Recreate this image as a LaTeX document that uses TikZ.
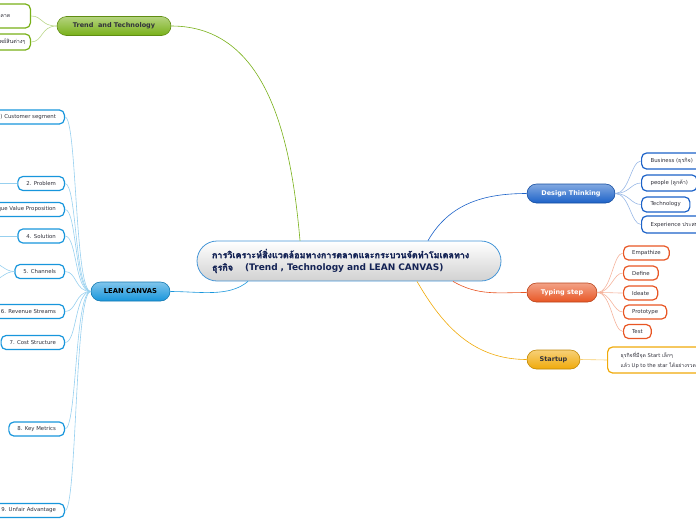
\documentclass[tikz,border=0pt]{standalone}
\usepackage{fontspec}
\setmainfont{DejaVu Sans}
\newfontfamily\thai[Script=Thai]{Loma}
\newfontfamily\thaibold[Script=Thai, FakeBold=2]{Loma}
\definecolor{trendgreen}{RGB}{120,176,24}
\definecolor{designblue}{RGB}{28,98,200}
\definecolor{typingred}{RGB}{232,86,36}
\definecolor{startupgold}{RGB}{240,170,10}
\definecolor{leanblue}{RGB}{24,150,220}
\definecolor{darkgray}{RGB}{50,50,60}
\definecolor{titlenavy}{RGB}{20,35,85}
\definecolor{titleedge}{RGB}{70,150,215}
\usepackage{tikz}
\tikzset{
    bigbox/.style={
        rectangle, rounded corners=9.5pt,
        minimum height=19pt, inner xsep=0pt,
        draw=#1!80!black, top color=#1!55!white, bottom color=#1,
        font=\fontsize{6.5}{7}\selectfont\bfseries, line width=0.6pt
    },
    box/.style={
        rectangle, rounded corners=5pt,
        minimum height=14pt, inner xsep=8.5pt, inner ysep=1pt,
        draw=#1, fill=white, text=darkgray,
        font=\fontsize{5.4}{6}\selectfont, line width=1.2pt
    },
    link/.style={draw=#1, line width=0.6pt},
    fanleft/.style={out=180, in=0, out distance=16pt, in distance=12pt},
    fanright/.style={out=0, in=180, out distance=14pt, in distance=10pt}
}

\begin{document}
\begin{tikzpicture}[x=1pt, y=-1pt]
    \useasboundingbox (0,0) rectangle (696,520);
    \clip (0,0) rectangle (696,520);

    % Central topic
    \node[rectangle, rounded corners=20pt, minimum width=304pt, minimum height=40pt,
          text width=274pt, draw=titleedge, line width=0.8pt, top color=white, bottom color=black!18,
          text=titlenavy, align=left, font=\fontsize{9}{12.5}\selectfont\bfseries]
          (central) at (349,261)
          {{\thaibold การวิเคราะห์สิ่งแวดล้อมทางการตลาดและกระบวนจัดทำโมเดลทาง}\\
           {\thaibold ธุรกิจ}\hspace{12pt}(Trend , Technology and LEAN CANVAS)};

    % Main branches
    \node[bigbox=trendgreen, minimum width=114pt, text=darkgray] (trend) at (114,26) {Trend\ \ and Technology};
    \node[bigbox=designblue, minimum width=88pt, text=white] (design) at (571,193.5) {Design Thinking};
    \node[bigbox=typingred, minimum width=70pt, text=white] (typing) at (562,292.5) {Typing step};
    \node[bigbox=startupgold, minimum width=53pt, text=darkgray] (startup) at (553.5,359.5) {Startup};
    \node[bigbox=leanblue, minimum width=79pt, text=black, font=\fontsize{6.8}{7}\selectfont\bfseries] (lean) at (130.5,291.5) {LEAN CANVAS};

    \draw[link=trendgreen] ([xshift=-49pt]central.north) to[out=95, in=0] (trend.east);
    \draw[link=designblue] ([xshift=79pt]central.north) to[out=60, in=180] (design.west);
    \draw[link=typingred] ([xshift=104pt]central.south) to[out=-30, in=180] (typing.west);
    \draw[link=startupgold] ([xshift=68pt]central.south) to[out=-60, in=180] (startup.west);
    \draw[link=leanblue] ([xshift=-101pt]central.south) to[out=-140, in=0, out distance=25pt, in distance=30pt] (lean.east);

    % Trend and Technology
    \node[box=trendgreen, anchor=east, minimum height=24pt, inner xsep=20pt] (trendA) at (31,16) {\thai การตลาด};
    \node[box=trendgreen, anchor=east, minimum height=16pt, inner xsep=5pt] (trendB) at (31,42) {\thai ทรัพย์สินต่างๆ};
    \draw[link=trendgreen!50] (trend.west) to[fanleft] (trendA.east);
    \draw[link=trendgreen!50] (trend.west) to[fanleft] (trendB.east);

    % Design Thinking
    \node[box=designblue, anchor=west, minimum height=16pt, inner xsep=9pt] (biz) at (641,161) {Business ({\thai ธุรกิจ})};
    \node[box=designblue, anchor=west, minimum height=16pt, inner xsep=9pt] (people) at (641,183) {people ({\thai ลูกค้า})};
    \node[box=designblue, anchor=west, minimum height=15pt, inner xsep=9pt] (tech) at (641,204.5) {Technology};
    \node[box=designblue, anchor=west, minimum height=17pt, inner xsep=9pt] (exper) at (641,224.5) {Experience {\thai ประสบการณ์}};
    \draw[link=designblue!45] (design.east) to[fanright] (biz.west);
    \draw[link=designblue!45] (design.east) to[fanright] (people.west);
    \draw[link=designblue!45] (design.east) to[fanright] (tech.west);
    \draw[link=designblue!45] (design.east) to[fanright] (exper.west);

    % Typing step
    \node[box=typingred, anchor=west] (empath) at (623,253) {Empathize};
    \node[box=typingred, anchor=west] (define) at (623,273) {Define};
    \node[box=typingred, anchor=west] (ideate) at (623,293) {Ideate};
    \node[box=typingred, anchor=west] (proto) at (623,312) {Prototype};
    \node[box=typingred, anchor=west] (test) at (623,331.5) {Test};
    \draw[link=typingred!45] (typing.east) to[fanright] (empath.west);
    \draw[link=typingred!45] (typing.east) to[fanright] (define.west);
    \draw[link=typingred!45] (typing.east) to[fanright] (ideate.west);
    \draw[link=typingred!45] (typing.east) to[fanright] (proto.west);
    \draw[link=typingred!45] (typing.east) to[fanright] (test.west);

    % Startup
    \node[box=startupgold, anchor=west, minimum height=26pt, inner xsep=13pt, align=left,
          font=\fontsize{5.2}{10}\selectfont] (startnote) at (607,360)
          {{\thai ธุรกิจที่มีจุด} Start {\thai เล็กๆ}\\{\thai แล้ว} Up to the star {\thai ได้อย่างรวดเร็ว}};
    \draw[link=startupgold!60] (startup.east) -- (startnote.west);

    % LEAN CANVAS
    \node[box=leanblue, anchor=east] (seg) at (65,117) {1) Customer segment};
    \node[box=leanblue, anchor=east] (problem) at (65,183.5) {2. Problem};
    \node[box=leanblue, anchor=east] (uvp) at (65,209.5) {3. Unique Value Proposition};
    \node[box=leanblue, anchor=east] (solution) at (65,236) {4. Solution};
    \node[box=leanblue, anchor=east] (channels) at (65,271.5) {5. Channels};
    \node[box=leanblue, anchor=east] (revenue) at (65,311.5) {6. Revenue Streams};
    \node[box=leanblue, anchor=east] (cost) at (65,342.5) {7. Cost Structure};
    \node[box=leanblue, anchor=east] (metrics) at (65,429) {8. Key Metrics};
    \node[box=leanblue, anchor=east] (unfair) at (65,510.5) {9. Unfair Advantage};
    \draw[link=leanblue!45] (lean.west) to[fanleft] (seg.east);
    \draw[link=leanblue!45] (lean.west) to[fanleft] (problem.east);
    \draw[link=leanblue!45] (lean.west) to[fanleft] (uvp.east);
    \draw[link=leanblue!45] (lean.west) to[fanleft] (solution.east);
    \draw[link=leanblue!45] (lean.west) to[fanleft] (channels.east);
    \draw[link=leanblue!45] (lean.west) to[fanleft] (revenue.east);
    \draw[link=leanblue!45] (lean.west) to[fanleft] (cost.east);
    \draw[link=leanblue!45] (lean.west) to[fanleft] (metrics.east);
    \draw[link=leanblue!45] (lean.west) to[fanleft] (unfair.east);

    % branches leaving the page
    \coordinate (problemout) at (-20,183.5);
    \coordinate (solutionout) at (-20,236);
    \coordinate (channelsup) at (-10,262);
    \coordinate (channelsdown) at (-10,281);
    \draw[link=leanblue!45] (problem.west) -- (problemout);
    \draw[link=leanblue!45] (solution.west) -- (solutionout);
    \draw[link=leanblue!45] (channels.west) to[out=180, in=0] (channelsup);
    \draw[link=leanblue!45] (channels.west) to[out=180, in=0] (channelsdown);

\end{tikzpicture}
\end{document}
